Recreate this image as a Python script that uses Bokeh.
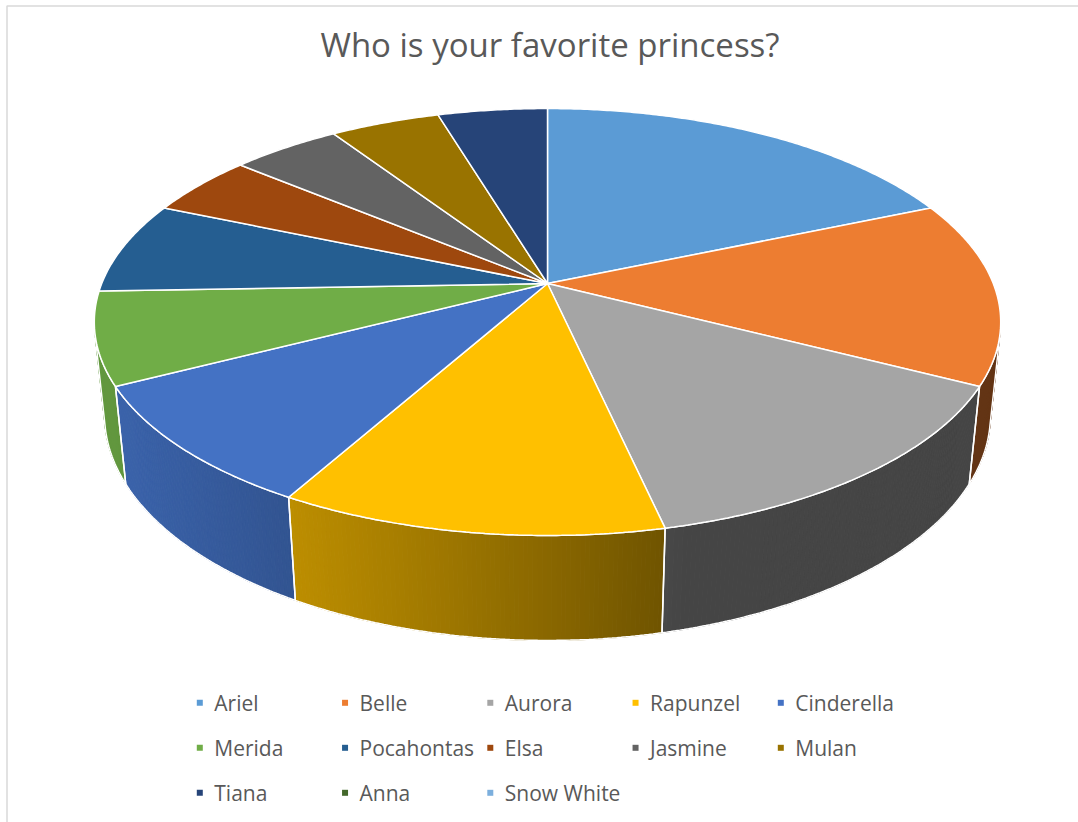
import numpy as np
from bokeh.plotting import figure
from bokeh.models import Range1d
from bokeh.embed import file_html
from bokeh.resources import INLINE
from bokeh.core.properties import value

# ---------------- data ----------------
categories = ["Ariel", "Belle", "Aurora", "Rapunzel", "Cinderella", "Merida",
              "Pocahontas", "Elsa", "Jasmine", "Mulan", "Tiana", "Anna", "Snow White"]
votes = [8, 6, 6, 5, 4, 3, 3, 2, 2, 2, 2, 0, 0]
colors = ["#5B9BD5", "#ED7D31", "#A5A5A5", "#FFC000", "#4472C4", "#70AD47",
          "#255E91", "#9E480E", "#636363", "#997300", "#264478", "#43682B", "#7CAFDD"]
title_text = "Who is your favorite princess?"

# ---------------- layout / projection ----------------
W, H = 1078, 822
CX, CY = 547.0, 283.0
FOC = 2190.0
ALPHA = np.radians(27.6)
DIST = 4.913
THICK = 0.238
CA, SA = np.cos(ALPHA), np.sin(ALPHA)
TEXT_COLOR = "#595959"
FONT = "Open Sans"


def project(X, Y, Z):
    den = DIST + Z * CA - Y * SA
    return CX + FOC * X / den, CY - FOC * (Y * CA + Z * SA) / den


def rim(thetas_deg, Y):
    t = np.radians(np.asarray(thetas_deg, dtype=float))
    return project(np.cos(t), Y, np.sin(t))


def arc(a, b, Y, step=0.5):
    n = max(2, int(abs(b - a) / step) + 1)
    th = np.linspace(a, b, n)
    return rim(th, Y)


def hex2rgb(h):
    h = h.lstrip("#")
    return np.array([int(h[i:i + 2], 16) for i in (0, 2, 4)], dtype=float)


def shade(hexcol, f):
    r, g, b = np.clip(hex2rgb(hexcol) * f, 0, 255).astype(int)
    return "#%02x%02x%02x" % (r, g, b)


total = float(sum(votes))
cum = np.concatenate([[0.0], np.cumsum(votes)])
starts = 90.0 - 360.0 * cum[:-1] / total
ends = 90.0 - 360.0 * cum[1:] / total

# visible side range (outward normal facing camera)
sil = np.degrees(np.arcsin(1.0 / (DIST * CA)))
vis_lo, vis_hi = -180.0 + sil, -sil
LIGHT = -165.0

p = figure(width=W, height=H, x_range=Range1d(0, W), y_range=Range1d(H, 0),
           output_backend="svg", toolbar_location=None, min_border=0,
           x_axis_location=None, y_axis_location=None,
           outline_line_color=None, background_fill_color="white",
           border_fill_color="white")
p.grid.visible = False

# chart-area border (top & left visible)
p.line(x=[6.5, 6.5, W + 20], y=[H + 20, 5.5, 5.5], line_color="#D9D9D9", line_width=1.5)

# ---------------- side walls ----------------
qx, qy, qc = [], [], []
ox, oy = [], []
for i, (s, e) in enumerate(zip(starts, ends)):
    if votes[i] <= 0:
        continue
    hi = min(s, vis_hi)
    lo = max(e, vis_lo)
    if lo >= hi:
        continue
    n = max(2, int((hi - lo) / 0.5) + 1)
    th = np.linspace(hi, lo, n)
    tx, ty = rim(th, 0.0)
    bx, by = rim(th, -THICK)
    for k in range(n - 1):
        m = 0.5 * (th[k] + th[k + 1])
        f = 0.42 + 0.46 * max(0.0, np.cos(np.radians(m - LIGHT)))
        qx.append([tx[k], tx[k + 1], bx[k + 1], bx[k]])
        qy.append([ty[k], ty[k + 1], by[k + 1], by[k]])
        qc.append(shade(colors[i], f))
    ox.append(list(tx) + list(bx[::-1]))
    oy.append(list(ty) + list(by[::-1]))

p.patches(xs=qx, ys=qy, fill_color=qc, line_color=qc, line_width=1.0)
p.patches(xs=ox, ys=oy, fill_alpha=0, line_color="white", line_width=1.5)

# ---------------- top face ----------------
px, py, pc = [], [], []
for i, (s, e) in enumerate(zip(starts, ends)):
    if votes[i] <= 0:
        continue
    ax, ay = arc(s, e, 0.0)
    cx0, cy0 = project(0.0, 0.0, 0.0)
    px.append([cx0] + list(ax))
    py.append([cy0] + list(ay))
    pc.append(colors[i])
p.patches(xs=px, ys=py, fill_color=pc, line_color="white", line_width=1.5)

# ---------------- title ----------------
p.text(x=[549.5], y=[44], text=[title_text], text_font=value(FONT),
       text_font_size=value("33px"), text_color=TEXT_COLOR,
       text_align="center", text_baseline="middle")

# ---------------- legend ----------------
ncol = 5
lx = [199.3 + 145.25 * (k % ncol) for k in range(len(categories))]
ly = [702.3 + 45 * (k // ncol) for k in range(len(categories))]
p.scatter(x=lx, y=ly, marker="square", size=6,
          fill_color=colors, line_color=None)
p.text(x=[v + 14.5 for v in lx], y=ly, text=categories, text_font=value(FONT),
       text_font_size=value("21px"), text_color=TEXT_COLOR,
       text_align="left", text_baseline="middle")

open("out.html", "w").write(file_html(p, INLINE))
